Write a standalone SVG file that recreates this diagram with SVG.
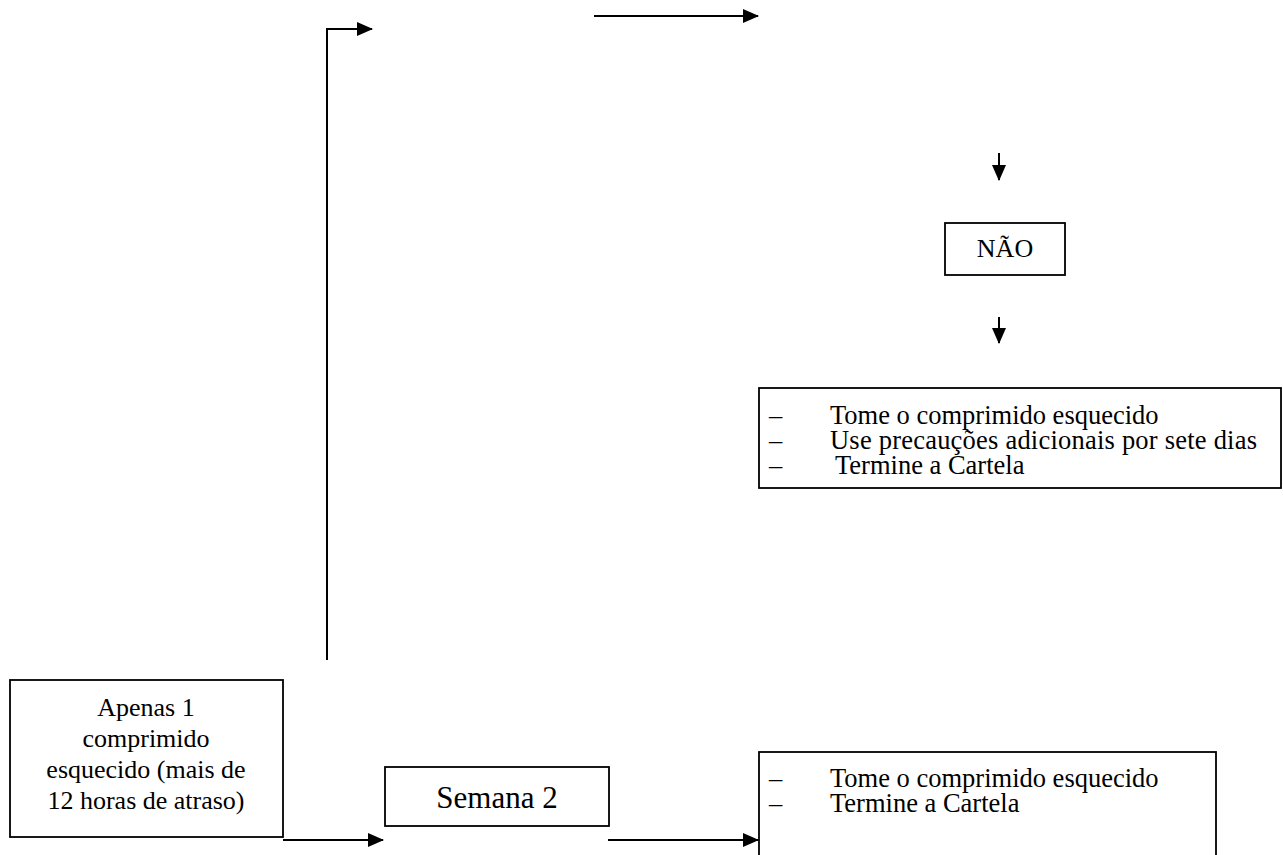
<svg xmlns="http://www.w3.org/2000/svg" width="1283" height="855" viewBox="0 0 1283 855">
<style>
.box{fill:#fff;stroke:#000;stroke-width:1.8}
.t{font-family:"Liberation Serif","Times New Roman",serif;font-size:26px;fill:#000}
.l{font-size:26.5px}
.c{text-anchor:middle}
.ln{fill:none;stroke:#000;stroke-width:2}
</style>
<defs>
<marker id="ah" markerUnits="userSpaceOnUse" markerWidth="16" markerHeight="16" viewBox="0 0 16 16" refX="15" refY="8" orient="auto">
<path d="M0,1 L16,8 L0,15 Z" fill="#000"/>
</marker>
</defs>
<g id="connectors">
<path class="ln" d="M327,660 V29 H372" marker-end="url(#ah)"/>
<path class="ln" d="M594,16 H758" marker-end="url(#ah)"/>
<path class="ln" d="M999,153 V180" marker-end="url(#ah)"/>
<path class="ln" d="M999,317 V343" marker-end="url(#ah)"/>
<path class="ln" d="M283,840 H383" marker-end="url(#ah)"/>
<path class="ln" d="M608,840 H758" marker-end="url(#ah)"/>
</g>
<g id="nao">
<rect class="box" x="945" y="223" width="120" height="52"/>
<text class="t c" x="1005" y="257">NÃO</text>
</g>
<g id="lista1">
<rect class="box" x="759" y="388" width="522" height="100"/>
<text class="t l" y="424"><tspan x="769">–</tspan><tspan x="830">Tome o comprimido esquecido</tspan></text>
<text class="t l" y="449"><tspan x="769">–</tspan><tspan x="830" textLength="427">Use precauções adicionais por sete dias</tspan></text>
<text class="t l" y="474"><tspan x="769">–</tspan><tspan x="835">Termine a Cartela</tspan></text>
</g>
<g id="apenas">
<rect class="box" x="10" y="680" width="273" height="157"/>
<text class="t c" x="146" y="716">Apenas 1</text>
<text class="t c" x="146" y="747">comprimido</text>
<text class="t c" x="146" y="778">esquecido (mais de</text>
<text class="t c" x="146" y="809">12 horas de atraso)</text>
</g>
<g id="semana">
<rect class="box" x="385" y="767" width="224" height="59"/>
<text class="t c" x="497" y="808" style="font-size:31px">Semana 2</text>
</g>
<g id="lista2">
<rect class="box" x="759" y="752" width="457" height="110"/>
<text class="t l" y="787"><tspan x="769">–</tspan><tspan x="830">Tome o comprimido esquecido</tspan></text>
<text class="t l" y="812"><tspan x="769">–</tspan><tspan x="830">Termine a Cartela</tspan></text>
</g>
</svg>
